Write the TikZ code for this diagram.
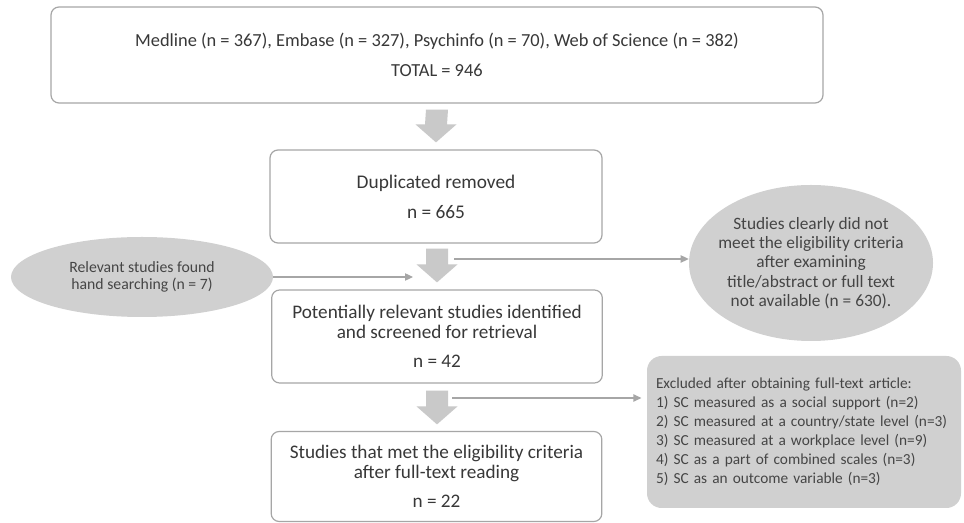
\documentclass[tikz,border=0pt]{standalone}
\usepackage{fontspec}
\setmainfont{Carlito}
\usetikzlibrary{shapes.geometric,arrows.meta,positioning,calc}
\definecolor{edgegray}{HTML}{A6A6A6}
\definecolor{fillgray}{HTML}{D0D0D0}
\definecolor{arrowgray}{HTML}{C9C9C9}
\definecolor{inkgray}{HTML}{383838}
\definecolor{softink}{HTML}{454545}
% wide grey down arrow from #1 (top) to #2 (tip)
\newcommand\blockdown[2]{%
  \fill[arrowgray] ($(#1)+(-11,0)$) -- ($(#1)+(11,0)$) -- ($(#2)+(11,-18)$)
    -- ($(#2)+(20.5,-18)$) -- (#2) -- ($(#2)+(-20.5,-18)$) -- ($(#2)+(-11,-18)$) -- cycle;}
\tikzset{
  box/.style={draw=edgegray, line width=0.9pt, rounded corners=6pt, fill=white,
    text=inkgray, align=center, inner sep=0pt},
  bubble/.style={ellipse, fill=fillgray, text=softink, align=center, inner sep=0pt},
  link/.style={draw=edgegray, line width=0.9pt, -{Triangle[width=5.5pt,length=6pt]}},
}
\begin{document}
\begin{tikzpicture}[x=0.75pt, y=-0.75pt]
  \useasboundingbox[fill=white] (0,0) rectangle (964,523);
  % main column
  \node[box, minimum width=579pt, minimum height=72pt, font=\fontsize{13.8}{22}\selectfont]
    (search) at (437,55)
    {Medline (n = 367), Embase (n = 327), Psychinfo (n = 70), Web of Science (n = 382)\\ TOTAL = 946};
  \node[box, minimum width=249pt, minimum height=69.75pt, font=\fontsize{14.5}{22.5}\selectfont]
    (dup) at (436,196.5) {Duplicated removed\\ n = 665};
  \node[box, minimum width=248pt, minimum height=69.75pt, font=\fontsize{14.4}{15}\selectfont]
    (screen) at (437,336.5)
    {Potentially relevant studies identified\\ and screened for retrieval\\[6.75pt] n = 42};
  \node[box, minimum width=248pt, minimum height=67.5pt, font=\fontsize{14.4}{15}\selectfont]
    (met) at (436.5,476.5)
    {Studies that met the eligibility criteria\\ after full-text reading\\[6.75pt] n = 22};
  % block arrows
  \coordinate (arrAtop) at ($(search.south)+(0,6)$);
  \coordinate (arrAtip) at ($(dup.north)+(0,-7)$);
  \coordinate (arrBtop) at ($(dup.south)+(1,5)$);
  \coordinate (arrBtip) at ($(screen.north)+(0,-7)$);
  \coordinate (arrCtop) at ($(screen.south)+(0,7)$);
  \coordinate (arrCtip) at ($(met.north)+(0.5,-6.5)$);
  \blockdown{arrAtop}{arrAtip}
  \blockdown{arrBtop}{arrBtip}
  \blockdown{arrCtop}{arrCtip}
  % side nodes
  \node[bubble, minimum width=196.5pt, minimum height=60pt, font=\fontsize{11.8}{13}\selectfont]
    (found) at (142,277) {Relevant studies found\\ hand searching (n = 7)};
  \node[bubble, minimum width=183pt, minimum height=117pt, inner xsep=-6pt,
    font=\fontsize{13}{14.4}\selectfont]
    (notmet) at (811,263)
    {Studies clearly did not\\ meet the eligibility criteria\\ after examining\\
     title/abstract or full text\\ not available (n = 630).};
  \node[box, draw=none, fill=fillgray, text=softink, rounded corners=11pt, align=left,
    minimum width=234pt, minimum height=114pt, text width=222pt, inner xsep=6.75pt,
    font=\fontsize{11.5}{14.25}\selectfont]
    (excl) at (804,432)
    {Excluded after obtaining full-text article:\\
     1) SC measured as a social support (n=2)\\
     2) SC measured at a country/state level (n=3)\\
     3) SC measured at a workplace level (n=9)\\
     4) SC as a part of combined scales (n=3)\\
     5) SC as an outcome variable (n=3)};
  % thin connectors
  \coordinate (joinB) at (413,277);
  \coordinate (tapB) at (454,259);
  \coordinate (tapC) at (452,398);
  \draw[link] (found.east) -- (joinB);
  \draw[link] (tapB) -- (tapB -| notmet.west);
  \draw[link, shorten >=3.75pt] (tapC) -- (tapC -| excl.west);
\end{tikzpicture}
\end{document}
